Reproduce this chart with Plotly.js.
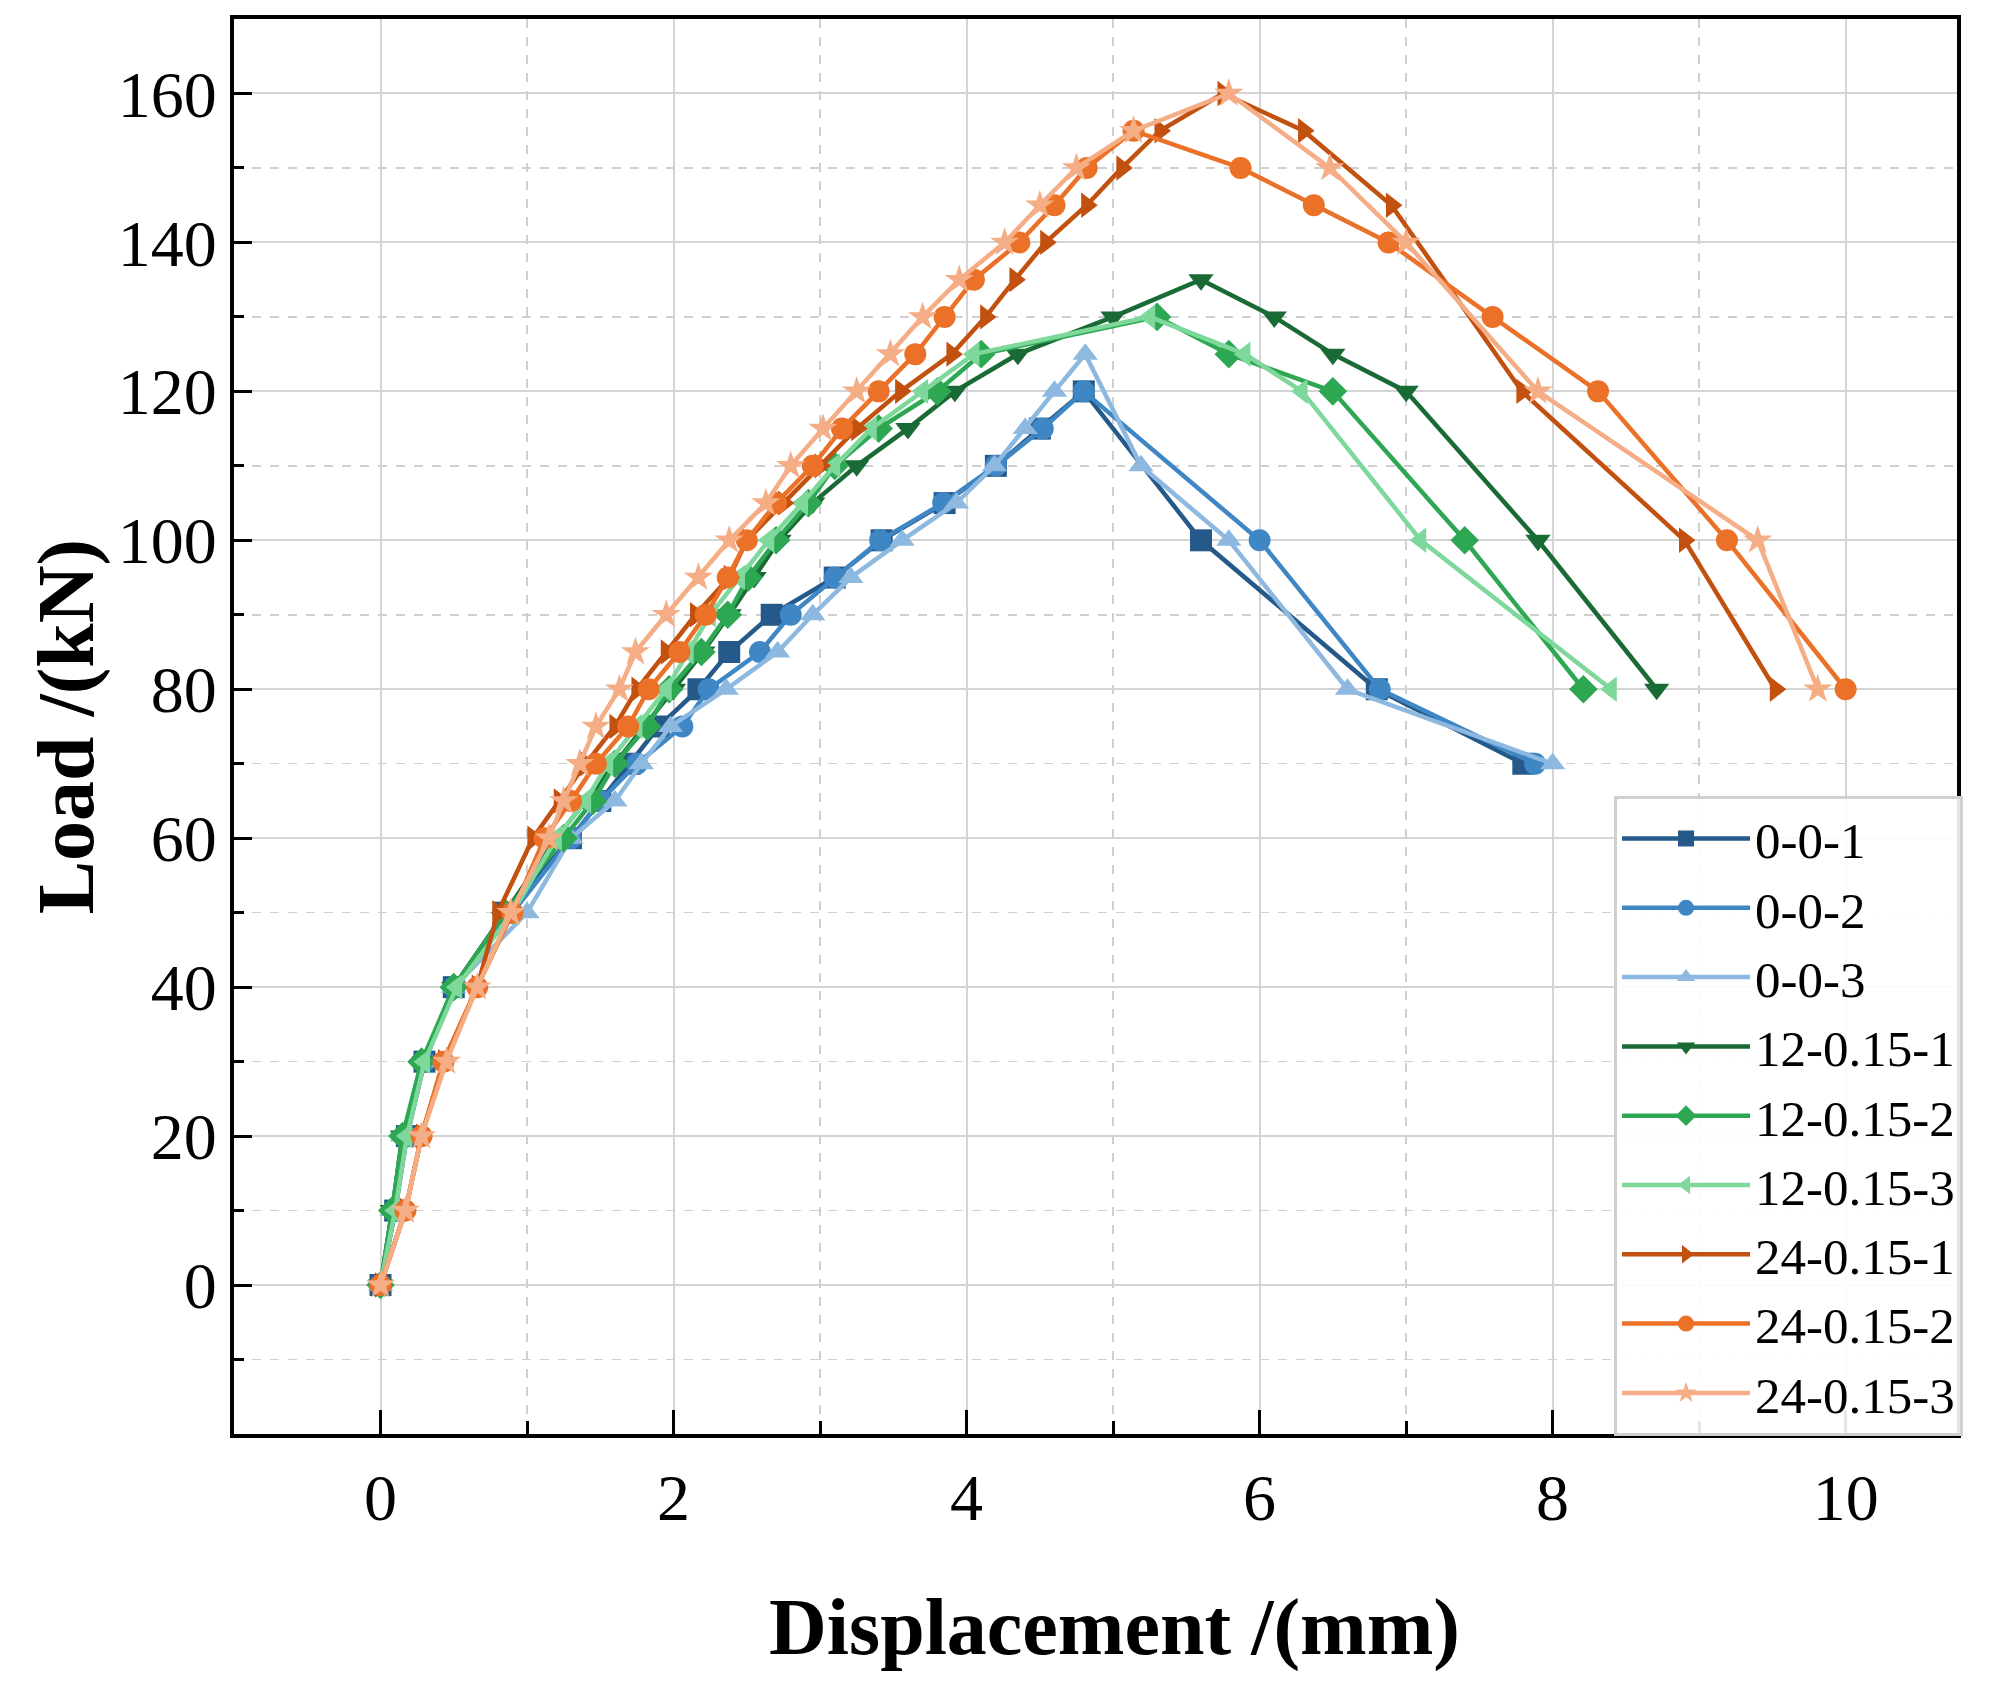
<!DOCTYPE html>
<html>
<head>
<meta charset="utf-8">
<script src="https://cdn.plot.ly/plotly-3.0.1.min.js"></script>
<style>
  html, body { margin: 0; padding: 0; background: #fff; }
  #plot { width: 2008px; height: 1698px; }
</style>
</head>
<body>
<div id="plot"></div>
<script>
// load steps (kN)
const load_0_0_1 = [0, 10, 20, 30, 40, 50, 60, 65, 70, 75, 80, 85, 90, 95, 100, 105, 110, 115, 120, 100, 80, 70];
const disp_0_0_1 = [0, 0.1, 0.18, 0.3, 0.5, 0.85, 1.3, 1.5, 1.7, 1.9, 2.17, 2.38, 2.67, 3.1, 3.42, 3.85, 4.2, 4.5, 4.8, 5.6, 6.8, 7.8];

const load_0_0_2 = [0, 10, 20, 30, 40, 50, 60, 65, 70, 75, 80, 85, 90, 95, 100, 105, 110, 115, 120, 100, 80, 70];
const disp_0_0_2 = [0, 0.1, 0.17, 0.3, 0.5, 0.9, 1.3, 1.5, 1.75, 2.06, 2.24, 2.59, 2.8, 3.1, 3.41, 3.84, 4.2, 4.52, 4.8, 6.0, 6.82, 7.88];

const load_0_0_3 = [0, 10, 20, 30, 40, 50, 60, 65, 70, 75, 80, 85, 90, 95, 100, 105, 110, 115, 120, 125, 110, 100, 80, 70];
const disp_0_0_3 = [0, 0.08, 0.15, 0.3, 0.5, 1.0, 1.3, 1.6, 1.78, 1.98, 2.36, 2.71, 2.95, 3.21, 3.56, 3.93, 4.19, 4.4, 4.6, 4.81, 5.19, 5.79, 6.6, 8.0];

const load_12_1 = [0, 10, 20, 30, 40, 50, 60, 65, 70, 75, 80, 85, 90, 95, 100, 105, 110, 115, 120, 125, 130, 135, 130, 125, 120, 100, 80];
const disp_12_1 = [0, 0.08, 0.15, 0.3, 0.5, 0.85, 1.2, 1.4, 1.6, 1.8, 2.0, 2.2, 2.38, 2.55, 2.72, 2.95, 3.25, 3.6, 3.92, 4.35, 5.0, 5.6, 6.1, 6.5, 7.0, 7.9, 8.71];

const load_12_2 = [0, 10, 20, 30, 40, 50, 60, 65, 70, 75, 80, 85, 90, 95, 100, 105, 110, 115, 120, 125, 130, 125, 120, 100, 80];
const disp_12_2 = [0, 0.08, 0.15, 0.28, 0.5, 0.85, 1.25, 1.45, 1.6, 1.82, 1.97, 2.19, 2.37, 2.51, 2.7, 2.92, 3.1, 3.4, 3.8, 4.1, 5.3, 5.79, 6.5, 7.4, 8.21];

const load_12_3 = [0, 10, 20, 30, 40, 50, 60, 65, 70, 75, 80, 85, 90, 95, 100, 105, 110, 115, 120, 125, 130, 125, 120, 100, 80];
const disp_12_3 = [0, 0.1, 0.18, 0.3, 0.52, 0.9, 1.2, 1.4, 1.55, 1.75, 1.95, 2.1, 2.25, 2.45, 2.65, 2.88, 3.1, 3.35, 3.7, 4.05, 5.25, 5.9, 6.29, 7.1, 8.4];

const load_24_1 = [0, 10, 20, 30, 40, 50, 60, 65, 70, 75, 80, 85, 90, 95, 100, 105, 110, 115, 120, 125, 130, 135, 140, 145, 150, 155, 160, 155, 145, 120, 100, 80];
const disp_24_1 = [0, 0.17, 0.28, 0.43, 0.66, 0.8, 1.04, 1.22, 1.4, 1.6, 1.75, 1.95, 2.15, 2.38, 2.5, 2.75, 3.0, 3.25, 3.55, 3.9, 4.13, 4.33, 4.54, 4.82, 5.06, 5.32, 5.75, 6.3, 6.9, 7.79, 8.9, 9.52];

const load_24_2 = [0, 10, 20, 30, 40, 50, 60, 65, 70, 75, 80, 85, 90, 95, 100, 105, 110, 115, 120, 125, 130, 135, 140, 145, 150, 155, 150, 145, 140, 130, 120, 100, 80];
const disp_24_2 = [0, 0.17, 0.28, 0.43, 0.66, 0.9, 1.12, 1.3, 1.47, 1.69, 1.83, 2.04, 2.22, 2.37, 2.5, 2.7, 2.95, 3.15, 3.4, 3.65, 3.85, 4.05, 4.36, 4.6, 4.82, 5.14, 5.87, 6.37, 6.88, 7.59, 8.31, 9.19, 10.0];

const load_24_3 = [0, 10, 20, 30, 40, 50, 60, 65, 70, 75, 80, 85, 90, 95, 100, 105, 110, 115, 120, 125, 130, 135, 140, 145, 150, 155, 160, 150, 140, 120, 100, 80];
const disp_24_3 = [0, 0.17, 0.28, 0.45, 0.66, 0.89, 1.15, 1.25, 1.36, 1.47, 1.63, 1.74, 1.95, 2.17, 2.38, 2.63, 2.8, 3.02, 3.25, 3.48, 3.7, 3.95, 4.26, 4.5, 4.75, 5.14, 5.79, 6.48, 7.0, 7.9, 9.4, 9.81];

const names   = ["0-0-1", "0-0-2", "0-0-3", "12-0.15-1", "12-0.15-2", "12-0.15-3", "24-0.15-1", "24-0.15-2", "24-0.15-3"];
const xs      = [disp_0_0_1, disp_0_0_2, disp_0_0_3, disp_12_1, disp_12_2, disp_12_3, disp_24_1, disp_24_2, disp_24_3];
const ys      = [load_0_0_1, load_0_0_2, load_0_0_3, load_12_1, load_12_2, load_12_3, load_24_1, load_24_2, load_24_3];
const colors  = ["#24598a", "#3f86c4", "#8db8df", "#1a6a35", "#2ea752", "#7ed89c", "#c2500f", "#ea7127", "#f5ad86"];
const symbols = ["square", "circle", "triangle-up", "triangle-down", "diamond", "triangle-left", "triangle-right", "circle", "star"];

const font = "Liberation Serif, Times New Roman, serif";

var data = names.map(function(n, i) {
  return {
    x: xs[i],
    y: ys[i],
    name: n,
    mode: "lines+markers",
    type: "scatter",
    line: {color: colors[i], width: 4.5},
    marker: {symbol: symbols[i], size: 22, color: colors[i]}
  };
});

var layout = {
  width: 2008,
  height: 1698,
  margin: {t: 19, r: 51, b: 264, l: 234},
  paper_bgcolor: "#fff",
  plot_bgcolor: "#fff",
  font: {family: font, size: 66, color: "#000"},
  showlegend: true,
  legend: {
    x: 1.0035, xanchor: "right",
    y: 0.451, yanchor: "top",
    bgcolor: "rgba(255,255,255,0.9)",
    bordercolor: "#cfcfcf",
    borderwidth: 3,
    itemwidth: 128,
    font: {family: font, size: 51, color: "#000"},
    tracegroupgap: 0
  },
  xaxis: {
    range: [-1, 10.76],
    tickvals: [0, 2, 4, 6, 8, 10],
    ticks: "inside", ticklen: 24, tickwidth: 3, tickcolor: "#000",
    ticklabelstandoff: 3,
    showline: true, linecolor: "#000", linewidth: 4, mirror: true,
    showgrid: true, gridcolor: "#d4d4d4", gridwidth: 2,
    zeroline: false,
    tickfont: {family: font, size: 66},
    minor: {
      tickvals: [1, 3, 5, 7, 9],
      ticks: "inside", ticklen: 13, tickwidth: 3, tickcolor: "#000",
      showgrid: true, gridcolor: "#cfcfcf", gridwidth: 1.5, griddash: "dash"
    }
  },
  yaxis: {
    range: [-20, 170],
    tickvals: [0, 20, 40, 60, 80, 100, 120, 140, 160],
    ticks: "inside", ticklen: 18, tickwidth: 3, tickcolor: "#000",
    ticklabelstandoff: 0,
    showline: true, linecolor: "#000", linewidth: 4, mirror: true,
    showgrid: true, gridcolor: "#d4d4d4", gridwidth: 2,
    zeroline: false,
    tickfont: {family: font, size: 66},
    minor: {
      tickvals: [-10, 10, 30, 50, 70, 90, 110, 130, 150],
      ticks: "inside", ticklen: 10, tickwidth: 3, tickcolor: "#000",
      showgrid: true, gridcolor: "#cfcfcf", gridwidth: 1.5, griddash: "dash"
    }
  },
  annotations: [
    {
      text: "<b>Displacement /(mm)</b>",
      xref: "paper", yref: "paper",
      x: 0.511, y: -0.137, xanchor: "center", yanchor: "middle",
      showarrow: false,
      font: {family: font, size: 80, color: "#000"}
    },
    {
      text: "<b>Load /(kN)</b>",
      xref: "paper", yref: "paper",
      x: -0.097, y: 0.5, xanchor: "center", yanchor: "middle",
      textangle: -90,
      showarrow: false,
      font: {family: font, size: 80, color: "#000"}
    }
  ]
};

Plotly.newPlot("plot", data, layout, {displayModeBar: false, staticPlot: true});
</script>
</body>
</html>
